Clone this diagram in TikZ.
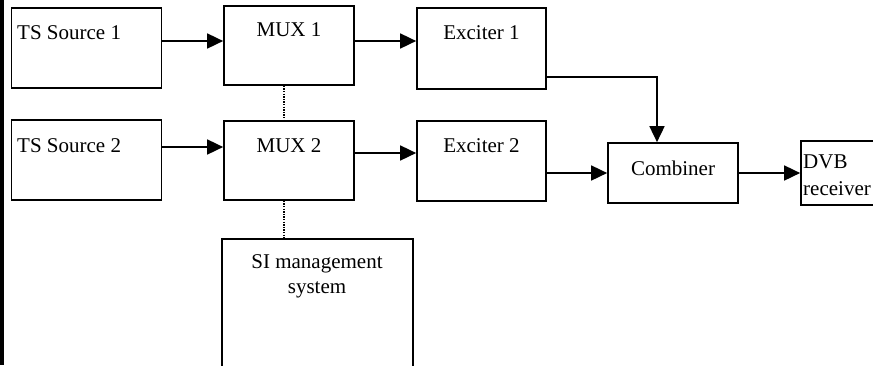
\documentclass[tikz,border=0pt]{standalone}
\usepackage{fontspec}
\setmainfont{Liberation Serif}
\usetikzlibrary{arrows.meta,calc}
\begin{document}
\begin{tikzpicture}[x=1pt,y=-1pt,
  box/.style={draw,line width=1.7pt,inner sep=0pt,rectangle},
  lbl/.style={inner sep=0pt,font=\fontsize{21}{25}\selectfont},
  arr/.style={line width=1.7pt,-{Triangle[length=16pt,width=15pt]}},
  dotline/.style={line width=1.3pt,dash pattern=on 1.3pt off 1.3pt}]
\useasboundingbox (0,0) rectangle (873,365);
\clip (0,0) rectangle (873,365);
\fill[black] (0,0) rectangle (3.5,365);
% boxes
\node[box,minimum width=150pt,minimum height=80pt] (ts1) at (86.5,48) {};
\node[box,minimum width=130pt,minimum height=79pt] (mux1) at (289,45.5) {};
\node[box,minimum width=129pt,minimum height=81pt] (exc1) at (481.5,48.5) {};
\node[box,minimum width=150pt,minimum height=80pt] (ts2) at (86.5,160) {};
\node[box,minimum width=130pt,minimum height=79pt] (mux2) at (289,160.5) {};
\node[box,minimum width=129pt,minimum height=80pt] (exc2) at (481.5,161) {};
\node[box,minimum width=130pt,minimum height=60pt] (comb) at (673,173) {};
\node[box,minimum width=119pt,minimum height=64pt] (dvb) at (860.5,173) {};
\node[box,line width=1.9pt,minimum width=191pt,minimum height=181pt] (si) at (317.5,329.5) {};
% labels
\node[lbl,anchor=base west] (t1) at (17,39) {TS Source 1};
\node[lbl,anchor=base] (m1) at (289,36) {MUX 1};
\node[lbl,anchor=base] (e1) at (481.5,39) {Exciter 1};
\node[lbl,anchor=base west] (t2) at (17,152) {TS Source 2};
\node[lbl,anchor=base] (m2) at (289,152) {MUX 2};
\node[lbl,anchor=base] (e2) at (481.5,152) {Exciter 2};
\node[lbl,anchor=base] (c) at (673,175) {Combiner};
\node[lbl,anchor=base west] (d1) at (803,168) {DVB};
\node[lbl,anchor=base west] (d2) at (803,195) {receiver};
\node[lbl,anchor=base] (s1) at (317,268) {SI management};
\node[lbl,anchor=base] (s2) at (317,293) {system};
% connectors
\draw[arr] (ts1.east |- 0,41) -- (mux1.west |- 0,41);
\draw[arr] (mux1.east |- 0,41) -- (exc1.west |- 0,41);
\draw[arr] (ts2.east |- 0,147) -- (mux2.west |- 0,147);
\draw[arr] (mux2.east |- 0,153) -- (exc2.west |- 0,153);
\draw[arr] (exc1.east |- 0,77) -| ([xshift=-16pt]comb.north);
\draw[arr] (exc2.east |- 0,173) -- (comb.west |- 0,173);
\draw[arr] (comb.east |- 0,173) -- (dvb.west |- 0,173);
\draw[dotline] ([xshift=-5pt]mux1.south) -- ([xshift=-5pt]mux2.north);
\draw[dotline] ([xshift=-5pt]mux2.south) -- ([xshift=-5pt]mux2.south |- si.north);
\end{tikzpicture}
\end{document}
